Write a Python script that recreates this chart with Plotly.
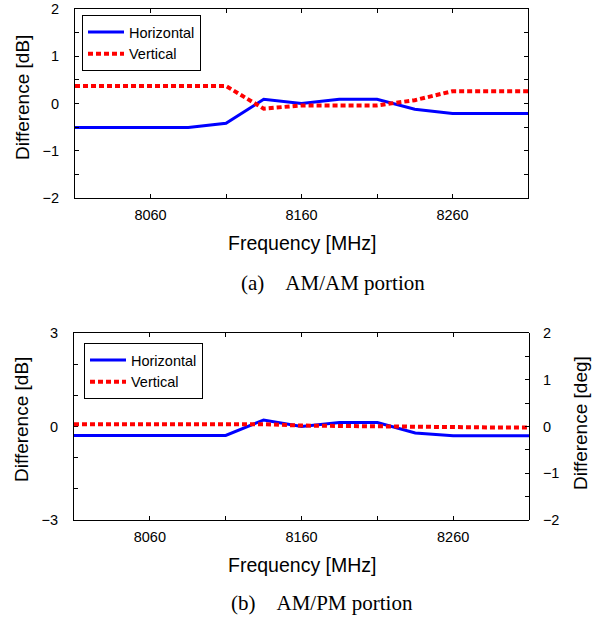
import plotly.graph_objects as go

# ---- data ----
freq = [8010, 8035, 8060, 8085, 8110, 8135, 8160, 8185, 8210, 8235, 8260, 8285, 8310]
amam_horizontal = [-0.51, -0.51, -0.51, -0.51, -0.42, 0.09, 0.0, 0.09, 0.09, -0.12, -0.21, -0.21, -0.21]
amam_vertical = [0.37, 0.37, 0.37, 0.37, 0.37, -0.11, -0.04, -0.04, -0.04, 0.07, 0.26, 0.26, 0.26]
ampm_horizontal = [-0.19, -0.19, -0.19, -0.19, -0.19, 0.14, 0.0, 0.085, 0.085, -0.14, -0.2, -0.2, -0.2]
ampm_vertical = [0.05, 0.05, 0.07, 0.07, 0.06, 0.05, 0.02, 0.01, 0.0, -0.02, -0.02, -0.02, -0.02]

x_tickvals = [8060, 8110, 8160, 8210, 8260]
x_ticktext = ["8060", "", "8160", "", "8260"]
y_db_top_vals = [-2, -1.5, -1, -0.5, 0, 0.5, 1, 1.5, 2]
y_db_top_text = ["\u22122", "", "\u22121", "", "0", "", "1", "", "2"]
y_db_bot_vals = [-3, -2, -1, 0, 1, 2, 3]
y_db_bot_text = ["\u22123", "", "", "0", "", "", "3"]
y_deg_vals = [-2, -1.5, -1, -0.5, 0, 0.5, 1, 1.5, 2]
y_deg_text = ["\u22122", "", "\u22121", "", "0", "", "1", "", "2"]

W, H = 597, 620
SANS = "Liberation Sans, Arial, sans-serif"
SERIF = "Liberation Serif, Times New Roman, serif"
BLUE = "#0000FF"
RED = "#FF0000"

def px_x(p):
    return p / W

def px_y(p):
    return 1 - p / H

fig = go.Figure()

fig.add_trace(go.Scatter(x=freq, y=amam_horizontal, mode="lines", name="Horizontal",
                         line=dict(color=BLUE, width=3), xaxis="x", yaxis="y", legend="legend"))
fig.add_trace(go.Scatter(x=freq, y=amam_vertical, mode="lines", name="Vertical",
                         line=dict(color=RED, width=4, dash="5px,3px"), xaxis="x", yaxis="y", legend="legend"))
# empty trace so the left dB axis of the lower panel is drawn
fig.add_trace(go.Scatter(x=[], y=[], mode="lines", showlegend=False, hoverinfo="skip",
                         xaxis="x2", yaxis="y2"))
fig.add_trace(go.Scatter(x=freq, y=ampm_horizontal, mode="lines", name="Horizontal",
                         line=dict(color=BLUE, width=3), xaxis="x2", yaxis="y3", legend="legend2"))
fig.add_trace(go.Scatter(x=freq, y=ampm_vertical, mode="lines", name="Vertical",
                         line=dict(color=RED, width=4, dash="5px,3px"), xaxis="x2", yaxis="y3", legend="legend2"))

TICKFONT = dict(family=SANS, size=14.5, color="black")
axis_common = dict(showline=True, linecolor="black", linewidth=1, ticks="inside", ticklen=4,
                   tickcolor="black", tickwidth=1, showgrid=False, zeroline=False,
                   automargin=False, tickfont=TICKFONT)

bot_domain = [px_y(520), px_y(333)]
LEGFONT = dict(family=SANS, size=14.5, color="black")

fig.update_layout(
    width=W, height=H,
    margin=dict(l=0, r=0, t=0, b=0, pad=0, autoexpand=False),
    paper_bgcolor="white", plot_bgcolor="rgba(0,0,0,0)",
    showlegend=True,
    xaxis=dict(domain=[px_x(75), px_x(528)], range=[8010, 8310], anchor="y",
               tickvals=x_tickvals, ticktext=x_ticktext, mirror="ticks",
               ticklabelstandoff=4, **axis_common),
    yaxis=dict(domain=[px_y(198), px_y(9)], range=[-2, 2], anchor="x",
               tickvals=y_db_top_vals, ticktext=y_db_top_text, mirror="ticks",
               ticklabelstandoff=12, **axis_common),
    xaxis2=dict(domain=[px_x(74), px_x(529)], range=[8010, 8310], anchor="y2",
                tickvals=x_tickvals, ticktext=x_ticktext, mirror="ticks",
                ticklabelstandoff=4, **axis_common),
    yaxis2=dict(domain=bot_domain, range=[-3, 3], anchor="x2", side="left",
                tickvals=y_db_bot_vals, ticktext=y_db_bot_text,
                ticklabelstandoff=12, **axis_common),
    yaxis3=dict(domain=bot_domain, range=[-2, 2], anchor="x2", side="right",
                tickvals=y_deg_vals, ticktext=y_deg_text,
                ticklabelstandoff=10, **axis_common),
    legend=dict(x=px_x(82), y=px_y(15), xanchor="left", yanchor="top",
                bgcolor="white", bordercolor="black", borderwidth=1,
                font=LEGFONT, itemwidth=36, tracegroupgap=0),
    legend2=dict(x=px_x(84), y=px_y(343), xanchor="left", yanchor="top",
                 bgcolor="white", bordercolor="black", borderwidth=1,
                 font=LEGFONT, itemwidth=36, tracegroupgap=0),
)

annots = [
    dict(text="Frequency [MHz]", x=px_x(302), y=px_y(243), size=19.5, family=SANS, angle=0),
    dict(text="Frequency [MHz]", x=px_x(302), y=px_y(565), size=19.5, family=SANS, angle=0),
    dict(text="Difference [dB]", x=px_x(22), y=px_y(98), size=19, family=SANS, angle=-90),
    dict(text="Difference [dB]", x=px_x(22), y=px_y(420), size=19, family=SANS, angle=-90),
    dict(text="Difference [deg]", x=px_x(580), y=px_y(423), size=19, family=SANS, angle=-90),
    dict(text="(a)\u00a0\u00a0\u00a0\u00a0AM/AM portion", x=px_x(333), y=px_y(283), size=21, family=SERIF, angle=0),
    dict(text="(b)\u00a0\u00a0\u00a0\u00a0AM/PM portion", x=px_x(322), y=px_y(603), size=21, family=SERIF, angle=0),
]
for a in annots:
    fig.add_annotation(text=a["text"], x=a["x"], y=a["y"], xref="paper", yref="paper",
                       xanchor="center", yanchor="middle", showarrow=False, textangle=a["angle"],
                       font=dict(family=a["family"], size=a["size"], color="black"))

fig.write_html("out.html", config={"displayModeBar": False},
               post_script="document.body.style.margin='0px';")
